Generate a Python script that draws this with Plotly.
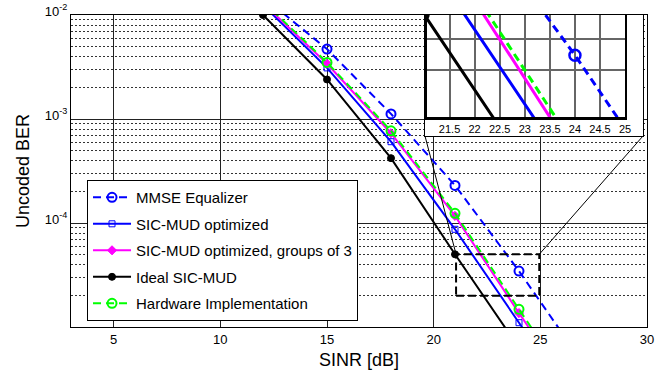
import math
import plotly.graph_objects as go

# ---------------- data ----------------
snr_db = [12, 15, 18, 21, 24, 27]
ber_mmse = [1.5e-2, 4.7e-3, 1.12e-3, 2.3e-4, 3.45e-5, 4.5e-6]
ber_sic_opt = [1.25e-2, 3.1e-3, 6.05e-4, 8.7e-5, 1.1e-5, 1.4e-6]
ber_sic_g3 = [1.3e-2, 3.4e-3, 7.3e-4, 1.17e-4, 1.36e-5, 1.7e-6]
ber_ideal = [1.0e-2, 2.4e-3, 4.2e-4, 5.0e-5, 6.3e-6, 8e-7]
ber_hw = [1.35e-2, 3.5e-3, 7.7e-4, 1.24e-4, 1.48e-5, 1.8e-6]

series_names = ["MMSE Equalizer", "SIC-MUD optimized", "SIC-MUD optimized, groups of 3",
                "Ideal SIC-MUD", "Hardware Implementation"]

x_ticks = [5, 10, 15, 20, 25, 30]
y_ticks = [1e-4, 1e-3, 1e-2]
y_ticktext = ["10<sup>-4</sup>", "10<sup>-3</sup>", "10<sup>-2</sup>"]
inset_x_ticks = [21.5, 22, 22.5, 23, 23.5, 24, 24.5, 25]
inset_x_ticktext = ["21.5", "22", "22.5", "23", "23.5", "24", "24.5", "25"]
inset_y_grid = [3e-5, 4e-5]

X_RANGE = [3, 30]
Y_RANGE = [1e-5, 1e-2]
ZOOM_X = [21.05, 24.95]
ZOOM_Y = [2e-5, 5e-5]
INSET_X_RANGE = [21.05, 25]
INSET_Y_RANGE = [1.95e-5, 5e-5]

FONT = "Liberation Sans, Arial, Helvetica, sans-serif"

styles = [
    dict(color="#0000FF", dash="8px,5px", symbol="circle-open", size=9, mlw=2),
    dict(color="#0000FF", dash="solid", symbol="square-open", size=6, mlw=1),
    dict(color="#FF00FF", dash="solid", symbol="diamond", size=7, mlw=1),
    dict(color="#000000", dash="solid", symbol="circle", size=7, mlw=1),
    dict(color="#00FF00", dash="8px,5px", symbol="circle-open", size=9, mlw=2),
]
series = [ber_mmse, ber_sic_opt, ber_sic_g3, ber_ideal, ber_hw]

fig = go.Figure()

for name, ys, st in zip(series_names, series, styles):
    fig.add_trace(go.Scatter(
        x=snr_db, y=ys, name=name, mode="lines+markers", legendgroup=name,
        line=dict(color=st["color"], width=2, dash=st["dash"]),
        marker=dict(symbol=st["symbol"], size=st["size"], color=st["color"],
                    line=dict(color=st["color"], width=st["mlw"])),
    ))

# empty trace to create the inset frame subplot
fig.add_trace(go.Scatter(x=[], y=[], xaxis="x2", yaxis="y2", showlegend=False, hoverinfo="skip"))

for name, ys, st in zip(series_names, series, styles):
    fig.add_trace(go.Scatter(
        x=snr_db, y=ys, name=name, mode="lines+markers", showlegend=False,
        xaxis="x3", yaxis="y3",
        line=dict(color=st["color"], width=3, dash=st["dash"]),
        marker=dict(symbol=st["symbol"], size=st["size"] + 2, color=st["color"],
                    line=dict(color=st["color"], width=st["mlw"] + 0.5)),
    ))

minor_vals = [k * 10.0 ** e for e in (-5, -4, -3) for k in range(2, 10)]

# paper-coordinate helpers (from main axis ranges)
def px(x):
    return (x - X_RANGE[0]) / (X_RANGE[1] - X_RANGE[0])

def py(y):
    lo, hi = math.log10(Y_RANGE[0]), math.log10(Y_RANGE[1])
    return (math.log10(y) - lo) / (hi - lo)

frame_x = [0.6146, 0.993]
frame_y = [0.612, 1.0]
inset_dom_x = [0.618, 0.962]
inset_dom_y = [0.673, 1.0]

fig.update_layout(
    width=670, height=370,
    margin=dict(l=71, r=23, t=15, b=43, autoexpand=False),
    paper_bgcolor="white", plot_bgcolor="white",
    font=dict(family=FONT, size=13, color="black"),
    xaxis=dict(
        domain=[0, 1], range=X_RANGE, tickvals=x_ticks, showgrid=True,
        gridcolor="#222", gridwidth=1, zeroline=False, showline=True, mirror=True,
        linecolor="black", linewidth=1, ticks="", tickfont=dict(size=13),
        ticklabelstandoff=0, automargin=False,
        title=dict(text="SINR [dB]", font=dict(size=18), standoff=10),
    ),
    yaxis=dict(
        type="log", range=[math.log10(Y_RANGE[0]), math.log10(Y_RANGE[1])],
        tickvals=y_ticks, ticktext=y_ticktext, showgrid=True, gridcolor="#222",
        gridwidth=1, zeroline=False, showline=True, mirror=True, linecolor="black",
        linewidth=1, ticks="", tickfont=dict(size=13), ticklabelshift=-4,
        automargin=False,
        minor=dict(tickvals=minor_vals, showgrid=True, gridcolor="#333",
                   griddash="2px,2px", gridwidth=1, ticks=""),
        title=dict(text="Uncoded BER", font=dict(size=18), standoff=10),
    ),
    xaxis2=dict(domain=frame_x, anchor="y2", range=[0, 1], showgrid=False, zeroline=False,
                showline=True, mirror=True, linecolor="black", linewidth=1,
                showticklabels=False, ticks="", fixedrange=True, automargin=False),
    yaxis2=dict(domain=frame_y, anchor="x2", range=[0, 1], showgrid=False, zeroline=False,
                showline=True, mirror=True, linecolor="black", linewidth=1,
                showticklabels=False, ticks="", fixedrange=True, automargin=False),
    xaxis3=dict(domain=inset_dom_x, anchor="y3", range=INSET_X_RANGE,
                tickvals=inset_x_ticks, ticktext=inset_x_ticktext, showgrid=True,
                gridcolor="#666", gridwidth=1.5, zeroline=False, showline=True,
                mirror=False, linecolor="black", linewidth=3, ticks="",
                tickfont=dict(size=11), ticklabelstandoff=0, automargin=False),
    yaxis3=dict(domain=inset_dom_y, anchor="x3", type="log",
                range=[math.log10(INSET_Y_RANGE[0]), math.log10(INSET_Y_RANGE[1])],
                tickvals=inset_y_grid, showticklabels=False, showgrid=True,
                gridcolor="#666", gridwidth=1.5, zeroline=False, showline=True,
                mirror=True, linecolor="black", linewidth=2, ticks="", automargin=False),
    legend=dict(
        x=0.0278, y=0.471, xanchor="left", yanchor="top",
        bgcolor="white", bordercolor="black", borderwidth=1,
        font=dict(size=15, family=FONT), tracegroupgap=4, itemwidth=38,
    ),
    showlegend=True,
)

# zoom rectangle and connector lines
rx0, rx1 = px(ZOOM_X[0]), px(ZOOM_X[1])
ry0, ry1 = py(ZOOM_Y[0]), py(ZOOM_Y[1])
fig.add_shape(type="rect", xref="paper", yref="paper", x0=rx0, x1=rx1, y0=ry0, y1=ry1,
              line=dict(color="black", width=2, dash="8px,4px"), layer="above")
fig.add_shape(type="line", xref="paper", yref="paper", x0=frame_x[0], y0=frame_y[0],
              x1=rx0, y1=ry1, line=dict(color="black", width=1), layer="above")
fig.add_shape(type="line", xref="paper", yref="paper", x0=rx1, y0=ry1,
              x1=frame_x[1], y1=frame_y[0], line=dict(color="black", width=1), layer="above")

fig.write_html("out.html", config={"displayModeBar": False},
               post_script="document.body.style.margin='0';")
